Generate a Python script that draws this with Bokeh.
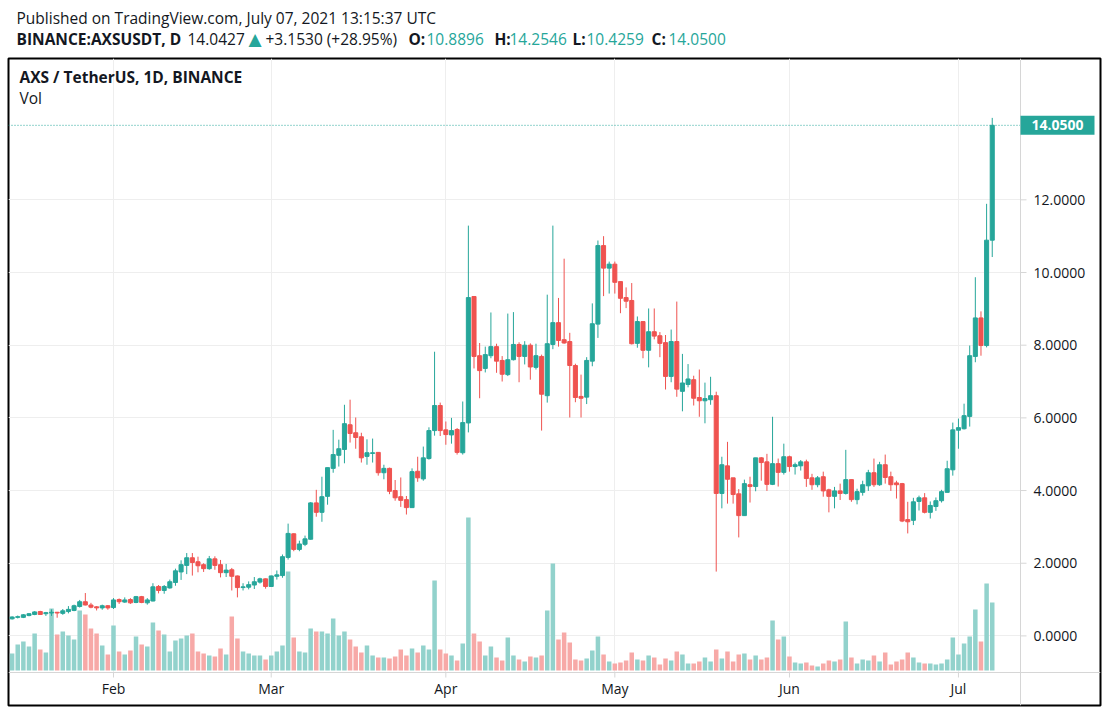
import numpy as np
import pandas as pd
from bokeh.plotting import figure
from bokeh.layouts import column
from bokeh.models import (Range1d, FixedTicker, NumeralTickFormatter, MonthsTicker, Grid,
                          DatetimeTickFormatter, Span, Label, BoxAnnotation, ColumnDataSource)
from bokeh.embed import file_html
from bokeh.resources import INLINE

# ---------------- data (BINANCE:AXSUSDT, daily) ----------------
start_date = "2021-01-14"
opens = [0.47,0.51,0.51,0.56,0.59,0.67,0.61,0.63,0.65,0.62,
         0.67,0.70,0.81,0.94,0.85,0.80,0.77,0.83,0.78,1.00,
         0.93,1.00,0.92,1.08,0.91,0.96,1.36,1.25,1.32,1.47,
         1.76,1.94,2.15,2.04,1.96,1.85,2.12,1.96,1.74,1.82,
         1.65,1.33,1.34,1.40,1.48,1.57,1.36,1.64,1.66,2.16,
         2.81,2.38,2.52,2.66,3.66,3.40,3.84,4.61,4.97,5.13,
         5.81,5.59,5.48,4.94,5.02,5.05,4.49,4.61,4.00,3.83,
         3.75,3.53,4.53,4.32,4.88,5.65,6.34,5.67,5.53,5.68,
         5.04,5.86,9.34,7.71,7.36,7.71,7.96,7.58,7.19,7.60,
         8.02,7.69,8.00,7.39,7.69,6.61,8.02,8.62,8.15,8.10,
         7.44,6.59,6.57,7.56,8.58,10.74,10.12,10.23,9.75,9.31,
         9.23,8.05,8.65,7.86,8.37,8.26,8.07,7.14,8.10,6.73,
         6.92,7.05,6.56,6.47,6.50,6.61,3.92,4.68,4.35,3.91,
         3.31,4.16,4.11,4.90,4.79,4.17,4.74,4.50,4.93,4.66,
         4.68,4.79,4.35,4.16,4.38,4.02,3.84,3.99,3.92,4.30,
         3.75,3.95,4.13,4.49,4.16,4.71,4.38,4.21,4.19,3.20,
         3.18,3.70,3.80,3.40,3.56,3.72,3.95,4.57,5.66,5.70,
         6.04,7.69,8.75,7.99,10.8896]
highs = [0.54,0.56,0.60,0.63,0.68,0.69,0.66,0.73,0.66,0.74,
         0.82,0.86,0.99,1.18,0.91,0.82,0.86,0.85,1.04,1.03,
         1.06,1.04,1.10,1.10,1.04,1.45,1.40,1.40,1.55,1.85,
         2.08,2.28,2.28,2.18,2.00,2.20,2.19,2.09,1.98,1.87,
         1.66,1.45,1.50,1.62,1.60,1.58,1.66,1.80,2.24,3.09,
         2.82,2.62,2.76,3.68,4.02,4.38,4.63,5.67,5.40,6.36,
         6.50,6.01,5.59,5.41,5.43,5.05,4.71,4.63,4.29,4.36,
         3.85,4.61,4.93,5.21,5.74,7.82,6.42,5.90,6.00,5.72,
         6.45,11.29,9.34,8.06,7.96,8.90,8.04,7.70,8.87,8.91,
         8.08,8.11,8.05,8.04,7.74,9.39,11.29,9.30,10.38,8.34,
         7.49,7.19,7.67,9.15,10.88,11.00,10.30,10.30,9.75,9.59,
         9.71,8.79,8.65,9.01,9.01,8.36,8.28,8.43,9.20,7.76,
         7.48,7.16,7.33,6.97,7.13,6.72,4.93,5.34,4.35,4.04,
         4.30,4.38,4.90,4.92,5.01,6.03,4.88,5.29,4.96,4.77,
         4.84,4.85,4.46,4.40,4.52,4.05,4.10,4.19,5.12,4.30,
         4.05,4.27,4.57,4.88,4.79,4.99,4.52,4.27,4.21,3.69,
         3.80,3.86,3.93,3.70,3.81,4.02,4.82,5.87,5.98,6.39,
         7.99,9.87,8.93,11.89,14.2546]
lows = [0.45,0.48,0.49,0.54,0.57,0.58,0.55,0.55,0.50,0.58,
        0.62,0.68,0.78,0.84,0.76,0.70,0.72,0.72,0.74,0.88,
        0.91,0.88,0.90,0.90,0.86,0.95,1.17,1.16,1.30,1.38,
        1.54,1.70,1.66,1.75,1.76,1.82,1.82,1.61,1.62,1.25,
        1.06,1.25,1.28,1.29,1.44,1.30,1.35,1.55,1.60,2.10,
        2.33,2.33,2.47,2.65,3.28,3.14,3.61,4.49,4.66,4.75,
        5.32,5.15,4.77,4.71,4.77,4.41,4.31,3.90,3.72,3.55,
        3.34,3.53,4.24,4.27,4.85,5.51,5.50,5.26,5.29,4.99,
        4.99,5.60,7.36,6.54,7.25,7.64,7.24,7.00,7.15,7.58,
        6.98,7.47,7.05,7.33,5.65,6.42,7.89,7.96,8.04,6.01,
        6.43,6.01,6.38,7.42,8.20,9.35,9.42,9.42,8.88,9.02,
        8.02,7.93,7.64,7.39,8.16,7.67,6.78,6.98,6.58,6.18,
        6.84,6.34,6.03,5.85,6.36,1.77,3.51,3.64,3.64,2.71,
        3.31,3.67,3.98,4.27,3.99,4.15,4.11,4.44,4.52,4.44,
        4.55,4.10,4.02,4.09,3.83,3.40,3.51,3.74,3.89,3.69,
        3.62,3.86,3.99,4.10,4.13,4.19,3.99,3.78,3.13,2.82,
        3.05,3.45,3.37,3.23,3.44,3.67,3.95,4.41,5.15,5.68,
        5.76,7.53,7.71,7.94,10.4259]
closes = [0.52,0.53,0.58,0.61,0.66,0.59,0.64,0.65,0.63,0.69,
          0.73,0.83,0.94,0.85,0.79,0.77,0.83,0.77,0.99,0.94,
          0.99,0.91,1.08,0.92,0.99,1.35,1.25,1.36,1.49,1.79,
          1.96,2.15,2.02,1.93,1.85,2.12,1.94,1.74,1.81,1.64,
          1.33,1.35,1.41,1.49,1.57,1.36,1.65,1.68,2.18,2.82,
          2.38,2.53,2.67,3.66,3.40,3.83,4.63,4.99,5.15,5.84,
          5.57,5.46,4.90,5.04,5.04,4.49,4.61,3.98,3.80,3.73,
          3.53,4.52,4.35,4.90,5.65,6.34,5.65,5.54,5.65,5.05,
          5.87,9.31,7.69,7.30,7.74,7.96,7.56,7.20,7.60,8.02,
          7.69,8.00,7.40,7.71,6.65,8.04,8.62,8.13,8.06,7.44,
          6.56,6.54,7.58,8.59,10.74,10.12,10.23,9.73,9.29,9.21,
          8.04,8.65,7.86,8.37,8.25,8.05,7.14,8.10,6.79,6.96,
          7.07,6.54,6.47,6.53,6.61,3.92,4.71,4.31,3.89,3.31,
          4.19,4.11,4.90,4.77,4.17,4.74,4.50,4.93,4.66,4.71,
          4.79,4.33,4.16,4.35,3.99,3.84,3.99,3.92,4.30,3.75,
          3.97,4.16,4.49,4.16,4.71,4.36,4.16,4.16,3.16,3.14,
          3.69,3.80,3.40,3.59,3.72,3.97,4.60,5.67,5.73,6.06,
          7.71,8.75,7.99,10.8896,14.05]
# volume in units of 100k AXS
volume_100k = [17,26,29,24,37,21,18,62,36,39,
               35,31,60,56,42,37,25,16,45,19,
               16,20,34,26,24,48,40,36,19,30,
               32,35,37,19,17,15,14,22,16,54,
               32,19,17,15,15,11,15,19,25,99,
               33,19,18,42,39,39,37,52,35,39,
               31,24,18,25,15,13,13,12,14,21,
               15,22,18,25,21,90,21,17,15,10,
               27,153,37,29,15,24,13,10,33,15,
               11,9,14,13,15,60,107,31,38,28,
               11,10,12,20,34,16,9,7,8,10,
               18,11,10,15,13,6,12,10,19,16,
               7,7,9,13,9,21,12,19,9,16,
               17,11,15,11,13,50,31,34,14,8,
               7,8,5,4,7,10,9,11,49,13,
               7,11,10,15,9,18,6,9,11,18,
               13,8,7,7,6,7,11,33,16,27,
               34,61,29,87,68]
price_ticks = [0, 2, 4, 6, 8, 10, 12]
month_ticks = ["2021-02-01", "2021-03-01", "2021-04-01", "2021-05-01",
               "2021-06-01", "2021-07-01"]
last_price = 14.0427
change_abs = 3.1530
change_pct = 28.95

# ---------------- styling / layout ----------------
TEAL = "#26a69a"
RED = "#ef5350"
TEAL_V = "#92d2cc"
RED_V = "#f7a9a7"
DARK = "#131722"
GRID = "#eeeeee"
AXLINE = "#d6d6d6"
FONT = "Open Sans"
DAY = 86400000

W, H = 1109, 714
HEAD_H = 57                          # header strip height
FL, FR, FT, FB = 8, 1100, 58, 705    # bordered main frame on the page
DIV_X = 1020                         # price-scale divider (page x)
AX_Y = 672                           # time-axis line (page y)
VOL_BASE_Y = 670                     # volume baseline (page y)
X0_PX, PX_PER_DAY = 11.6, 5.633      # first candle position, day spacing
P0_PX, PX_PER_UNIT = 635.4, 36.34    # price 0 position, px per price unit
TAG_W, TAG_H = 74, 19                # last-price tag size (px)

dates = pd.date_range(start_date, periods=len(opens), freq="D")
t0 = dates[0]


def x_at(cx):                # page x -> datetime
    return t0 + pd.Timedelta(days=(cx - X0_PX) / PX_PER_DAY)


def y_at(cy):                # page y -> price
    return (P0_PX - cy) / PX_PER_UNIT


def ms(ts):
    return ts.value / 1e6


df = pd.DataFrame(dict(date=dates, open=opens, high=highs, low=lows,
                       close=closes, vol=volume_100k))
up = df["close"] >= df["open"]
df["top"] = df[["open", "close"]].max(axis=1)
df["bot"] = df[["open", "close"]].min(axis=1)
df["color"] = np.where(up, TEAL, RED)
df["vcolor"] = np.where(up, TEAL_V, RED_V)
src = ColumnDataSource(df)

x_start, x_end, x_div = x_at(FL), x_at(FR), x_at(DIV_X)
y_bot, y_top, y_axl = y_at(FB), y_at(FT), y_at(AX_Y)

# ---------------- header strip ----------------
hd = figure(width=W, height=HEAD_H, x_range=Range1d(0, W), y_range=Range1d(0, HEAD_H),
            output_backend="svg", toolbar_location=None, min_border=0,
            x_axis_location=None, y_axis_location=None)
hd.grid.visible = False
hd.outline_line_color = None


def hlab(cx, cy, text, size="15.5px", bold=False, color=DARK, font=FONT):
    hd.add_layout(Label(x=cx, y=HEAD_H - cy, x_units="screen", y_units="screen",
                        text=text, text_font=font, text_font_size=size,
                        text_font_style="bold" if bold else "normal",
                        text_color=color, text_baseline="middle", text_align="left"))


hlab(8, 17, "Published on TradingView.com, July 07, 2021 13:15:37 UTC")
hlab(8, 38, "BINANCE:AXSUSDT, D", bold=True)
hlab(179, 38, f"{last_price:.4f}")
hlab(240, 38, "\u25B2", size="17px", color=TEAL, font="DejaVu Sans")
hlab(257, 38, f"+{change_abs:.4f} (+{change_pct:.2f}%)")
hlab(400, 38, "O:", bold=True)
hlab(418, 38, f"{opens[-1]:.4f}", color=TEAL)
hlab(486, 38, "H:", bold=True)
hlab(501, 38, f"{highs[-1]:.4f}", color=TEAL)
hlab(564, 38, "L:", bold=True)
hlab(578, 38, f"{lows[-1]:.4f}", color=TEAL)
hlab(643, 38, "C:", bold=True)
hlab(660, 38, f"{closes[-1]:.4f}", color=TEAL)

# ---------------- main chart ----------------
p = figure(width=W, height=H - HEAD_H, x_axis_type="datetime",
           x_range=Range1d(x_start, x_end), y_range=Range1d(y_bot, y_top),
           y_axis_location="right", output_backend="svg", toolbar_location=None,
           min_border_left=FL, min_border_right=W - FR,
           min_border_top=FT - HEAD_H, min_border_bottom=H - FB)
p.outline_line_color = "black"
p.outline_line_width = 2
p.background_fill_color = "white"
p.border_fill_color = "white"
p.extra_y_ranges = {"vol": Range1d(-(FB - VOL_BASE_Y), (FB - FT) - (FB - VOL_BASE_Y))}

# grid limited to the chart pane
if "cross_bounds" in Grid.properties():
    p.xgrid.cross_bounds = (y_axl, y_top)
    p.ygrid.cross_bounds = (ms(x_start), ms(x_div))
    p.xgrid.grid_line_color = GRID
    p.ygrid.grid_line_color = GRID
else:
    p.xgrid.grid_line_color = None
    p.ygrid.grid_line_color = None
    mt = pd.to_datetime(month_ticks)
    p.segment(x0=mt, y0=[y_axl] * len(mt), x1=mt, y1=[y_top] * len(mt),
              line_color=GRID, line_width=1)
    p.segment(x0=[x_start] * len(price_ticks), y0=price_ticks,
              x1=[x_div] * len(price_ticks), y1=price_ticks, line_color=GRID, line_width=1)

# scale lines and tick marks
p.add_layout(Span(location=ms(x_div), dimension="height", line_color=AXLINE, line_width=1))
p.add_layout(Span(location=y_axl, dimension="width", line_color=AXLINE, line_width=1))
mt = pd.to_datetime(month_ticks)
p.segment(x0=mt, y0=[y_axl] * len(mt), x1=mt, y1=[y_at(AX_Y + 5)] * len(mt),
          line_color=AXLINE, line_width=1)
x_tick_end = x_at(DIV_X + 6)
p.segment(x0=[x_div] * len(price_ticks), y0=price_ticks,
          x1=[x_tick_end] * len(price_ticks), y1=price_ticks, line_color=AXLINE, line_width=1)

# volume
p.vbar(x="date", width=0.8 * DAY, top="vol", bottom=0, y_range_name="vol",
       fill_color="vcolor", line_color=None, source=src)
# last price line
p.segment(x0=[x_start], y0=[closes[-1]], x1=[x_div], y1=[closes[-1]],
          line_color=TEAL, line_dash="1 2", line_width=1)
# candles
p.segment(x0="date", y0="low", x1="date", y1="high", line_color="color",
          line_width=1, source=src)
p.vbar(x="date", width=0.72 * DAY, top="top", bottom="bot", fill_color="color",
       line_color="color", line_width=1, source=src)

# axes (labels pulled inside the bordered pane)
p.yaxis.ticker = FixedTicker(ticks=price_ticks)
p.yaxis.formatter = NumeralTickFormatter(format="0.0000")
p.xaxis.ticker = MonthsTicker(months=list(range(12)))
p.xaxis.formatter = DatetimeTickFormatter(months="%b", days="%b")
for ax in (p.xaxis, p.yaxis):
    ax.major_label_text_font = FONT
    ax.major_label_text_font_size = "14px"
    ax.major_label_text_color = DARK
    ax.axis_line_color = None
    ax.major_tick_line_color = None
    ax.minor_tick_line_color = None
    ax.major_tick_in = 0
    ax.major_tick_out = 0
p.yaxis.major_label_standoff = -(FR - (DIV_X + 13))
p.xaxis.major_label_standoff = -(FB - 678)

# last price tag on the price scale
half = TAG_H / 2 / PX_PER_UNIT
p.add_layout(BoxAnnotation(left=ms(x_div), right=ms(x_at(DIV_X + TAG_W)),
                           top=closes[-1] + half, bottom=closes[-1] - half,
                           fill_color=TEAL, fill_alpha=1.0, line_color=None))
p.add_layout(Label(x=ms(x_at(DIV_X + TAG_W / 2)), y=closes[-1], x_units="data",
                   y_units="data", text=f"{closes[-1]:.4f}", text_font=FONT,
                   text_font_size="14px", text_font_style="bold", text_color="white",
                   text_baseline="middle", text_align="center"))


def mlab(cx, cy, text, size="15.5px", bold=False, color=DARK):
    p.add_layout(Label(x=cx - FL, y=FB - cy, x_units="screen", y_units="screen",
                       text=text, text_font=FONT, text_font_size=size,
                       text_font_style="bold" if bold else "normal",
                       text_color=color, text_baseline="middle", text_align="left"))


mlab(19, 76, "AXS / TetherUS, 1D, BINANCE", bold=True)
mlab(19, 97, "Vol")

layout = column(hd, p, spacing=0)
open("out.html", "w").write(file_html(layout, INLINE))
